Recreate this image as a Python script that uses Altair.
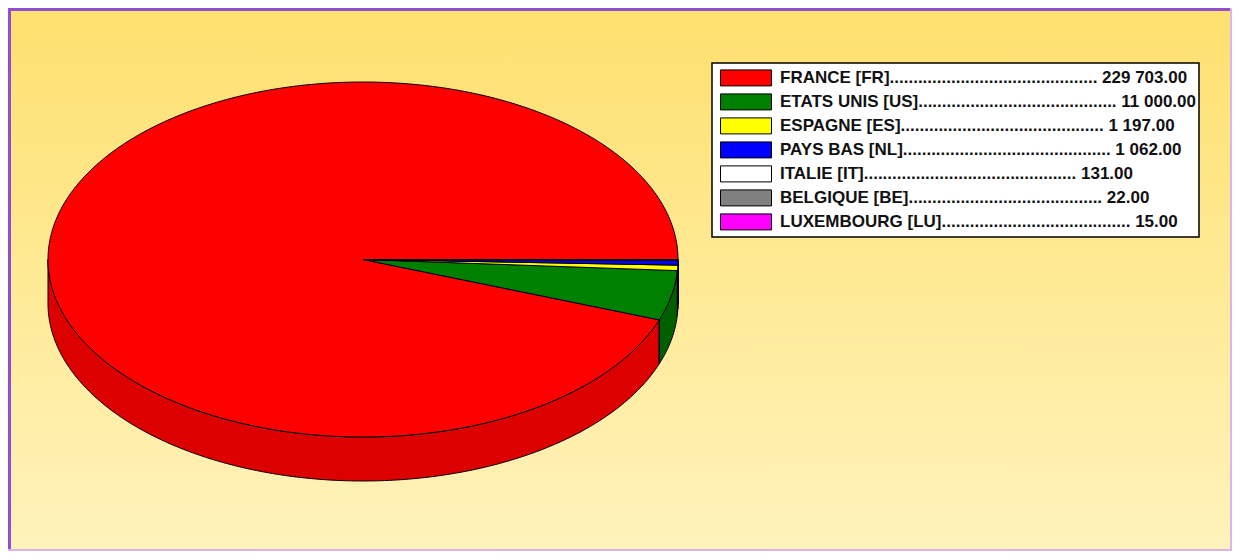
import numpy as np
import pandas as pd
import altair as alt

names = ["FRANCE [FR]", "ETATS UNIS [US]", "ESPAGNE [ES]", "PAYS BAS [NL]", "ITALIE [IT]", "BELGIQUE [BE]", "LUXEMBOURG [LU]"]
values = [229703, 11000, 1197, 1062, 131, 22, 15]
dots = [44, 42, 43, 44, 45, 41, 40]
top_colors = ["#ff0000", "#008000", "#ffff00", "#0000ff", "#ffffff", "#808080", "#ff00ff"]
wall_colors = ["#dc0000", "#006000", "#dcdc00", "#0000dc", "#dcdcdc", "#606060", "#dc00dc"]

W, H = 1224, 543
# scale: unit pie -> plot pixels
CX, CY, RX, RY, DEPTH = 355, 251.5, 315, 177.5, 44 / 177.5

def fmt(v):
    return f"{v:,.2f}".replace(",", " ")

labels = [f"{n}{'.' * d} {fmt(v)}" for n, d, v in zip(names, dots, values)]

total = sum(values)
edges = np.concatenate([[0], np.cumsum(values)]) / total * 2 * np.pi
top_rows, wall_rows = [], []
for k, lab in enumerate(labels):
    a0, a1 = edges[k], edges[k + 1]
    n = max(2, int((a1 - a0) / np.radians(0.5)))
    ts = np.linspace(a0, a1, n)
    pts = [(0.0, 0.0)] + [(np.cos(t), np.sin(t)) for t in ts] + [(0.0, 0.0)]
    for i, (x, y) in enumerate(pts):
        top_rows.append({"s": lab, "i": i, "x": x, "y": y})
    lo, hi = max(a0, np.pi), a1
    if hi > lo:
        n = max(2, int((hi - lo) / np.radians(0.5)))
        ts = np.linspace(lo, hi, n)
        arc = [(np.cos(t), np.sin(t)) for t in ts]
        poly = arc + [(x, y - DEPTH) for x, y in arc[::-1]] + [arc[0]]
        for i, (x, y) in enumerate(poly):
            wall_rows.append({"s": lab, "i": i, "x": x, "y": y, "c": wall_colors[k]})

top_df = pd.DataFrame(top_rows)
wall_df = pd.DataFrame(wall_rows)

xs = alt.Scale(domain=[-CX / RX, (W - CX) / RX], range=[0, W], nice=False, zero=False)
ys = alt.Scale(domain=[(CY - H) / RY, CY / RY], range=[H, 0], nice=False, zero=False)
X = alt.X("x:Q", scale=xs, axis=None)
Y = alt.Y("y:Q", scale=ys, axis=None)

one = pd.DataFrame({"a": [0]})
bg = alt.Chart(one).mark_rect(
    fill=alt.Gradient(
        gradient="linear",
        stops=[alt.GradientStop(color="#fee06e", offset=0), alt.GradientStop(color="#fff3bc", offset=1)],
        x1=0, x2=0, y1=0, y2=1,
    )
).encode(x=alt.value(0), x2=alt.value(W), y=alt.value(0), y2=alt.value(H))

left = alt.Chart(one).mark_rect(fill="#8f4fd0").encode(x=alt.value(0), x2=alt.value(3), y=alt.value(0), y2=alt.value(H))
top = alt.Chart(one).mark_rect(fill="#8f4fd0").encode(x=alt.value(0), x2=alt.value(W), y=alt.value(0), y2=alt.value(3))
right = alt.Chart(one).mark_rect(fill="#dcb4ec").encode(x=alt.value(W - 2), x2=alt.value(W), y=alt.value(0), y2=alt.value(H))
bottom = alt.Chart(one).mark_rect(fill="#dcb4ec").encode(x=alt.value(0), x2=alt.value(W), y=alt.value(H - 2), y2=alt.value(H))

walls = alt.Chart(wall_df).mark_line(stroke="black", strokeWidth=1).encode(
    x=X, y=Y, order="i:Q", detail="s:N",
    fill=alt.Fill("c:N", scale=None),
)
legend = alt.Legend(
    title=None, orient="none", legendX=704, legendY=55,
    fillColor="white", strokeColor="black", padding=3,
    symbolType="M-1,-0.314H1V0.314H-1Z", symbolSize=2601, symbolOffset=5,
    symbolStrokeColor="black", symbolStrokeWidth=1, symbolOpacity=1,
    labelFont="Liberation Sans", labelFontWeight="bold", labelFontSize=17,
    labelColor="#111111", labelLimit=500, labelOffset=8,
    clipHeight=23.8, rowPadding=0,
)
tops = alt.Chart(top_df).mark_line(stroke="black", strokeWidth=1).encode(
    x=X, y=Y, order="i:Q", detail="s:N",
    fill=alt.Fill("s:N", scale=alt.Scale(domain=labels, range=top_colors), sort=labels, legend=legend),
)

chart = alt.layer(bg, left, top, right, bottom, walls, tops).properties(
    width=W, height=H, padding=0, autosize=alt.AutoSizeParams(type="none")
).configure_view(stroke=None).configure_legend(strokeWidth=1.5)

chart.save("out.html", embed_options={"renderer": "svg", "actions": False})
